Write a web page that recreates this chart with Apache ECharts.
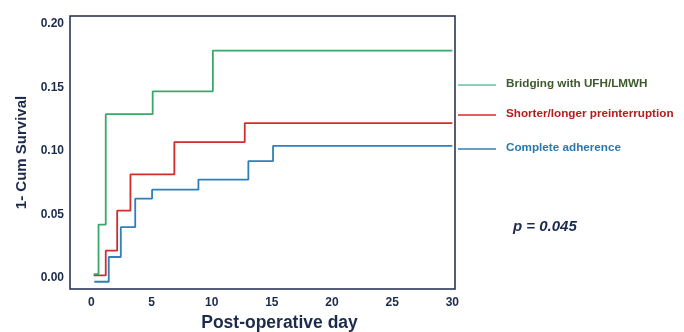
<!DOCTYPE html>
<html>
<head>
<meta charset="utf-8">
<script src="https://cdn.jsdelivr.net/npm/echarts@6/dist/echarts.min.js"></script>
<style>html,body{margin:0;padding:0;background:#fff}#c{width:684px;height:332px}</style>
</head>
<body>
<div id="c"></div>
<script>
var seriesNames = ['Bridging with UFH/LMWH', 'Shorter/longer preinterruption', 'Complete adherence'];
var bridging = [[0.2,0.003],[0.6,0.042],[1.2,0.129],[5.1,0.147],[10.1,0.179],[30,0.179]];
var shorter = [[0.2,0.002],[1.2,0.0215],[2.15,0.053],[3.25,0.0815],[6.9,0.107],[12.75,0.122],[30,0.122]];
var complete = [[0.25,-0.003],[1.45,0.0165],[2.45,0.040],[3.65,0.0625],[5.05,0.0695],[8.9,0.0775],[13.05,0.092],[15.1,0.104],[30,0.104]];
var xTicks = [0,5,10,15,20,25,30];
var yTicks = [0,0.05,0.10,0.15,0.20];
var pText = 'p = 0.045';

var navy = '#1c2a4c';
var ff = '"Liberation Sans", Arial, sans-serif';
var lineColors = ['#3aa86a','#d22c2c','#2f7fb8'];
var legendLineColors = ['#62c3a4','#d22c2c','#2f7fb8'];
var legendTextColors = ['#3e5a2c','#b51d1d','#2a78b0'];
var legendY = [85,115,149];

var chart = echarts.init(document.getElementById('c'), null, {renderer:'canvas'});
var dataSets = [bridging, shorter, complete];
var graphics = [];
for (var i=0;i<3;i++){
  graphics.push({type:'line', shape:{x1:458,y1:legendY[i],x2:496,y2:legendY[i]}, style:{stroke:legendLineColors[i], lineWidth:1.5}});
  graphics.push({type:'text', left:506, top:legendY[i]-7, style:{text:seriesNames[i], fill:legendTextColors[i], font:'bold 11.7px ' + ff}});
}
graphics.push({type:'text', left:513, top:219, style:{text:pText, fill:navy, font:'italic bold 15px ' + ff}});

chart.setOption({
  animation:false,
  grid:{left:70, top:16, right:229, bottom:43, show:true, borderColor:navy, borderWidth:1.5, backgroundColor:'transparent', outerBoundsMode:'none', containLabel:false},
  xAxis:{type:'value', min:-1.77, max:30.22,
    name:'Post-operative day', nameLocation:'middle', nameGap:25,
    nameTextStyle:{color:navy, fontSize:17.5, fontWeight:'bold', fontFamily:ff, padding:[0,0,0,34]},
    axisLine:{show:false}, axisTick:{show:false}, splitLine:{show:false},
    axisLabel:{customValues:xTicks, color:navy, fontSize:12, fontWeight:'bold', margin:8, fontFamily:ff}},
  yAxis:{type:'value', min:-0.0087, max:0.2063,
    name:'1- Cum Survival', nameLocation:'middle', nameGap:39, nameRotate:90,
    nameTextStyle:{color:navy, fontSize:15, fontWeight:'bold', fontFamily:ff},
    axisLine:{show:false}, axisTick:{show:false}, splitLine:{show:false},
    axisLabel:{customValues:yTicks, color:navy, fontSize:12, fontWeight:'bold', margin:6, fontFamily:ff,
      formatter:function(v){return v.toFixed(2);}}},
  series: dataSets.map(function(d,i){return {name:seriesNames[i], type:'line', step:'end', data:d, showSymbol:false, symbol:'none',
    lineStyle:{color:lineColors[i], width:1.8}, z:3-i};}),
  graphic:graphics
});
</script>
</body>
</html>
